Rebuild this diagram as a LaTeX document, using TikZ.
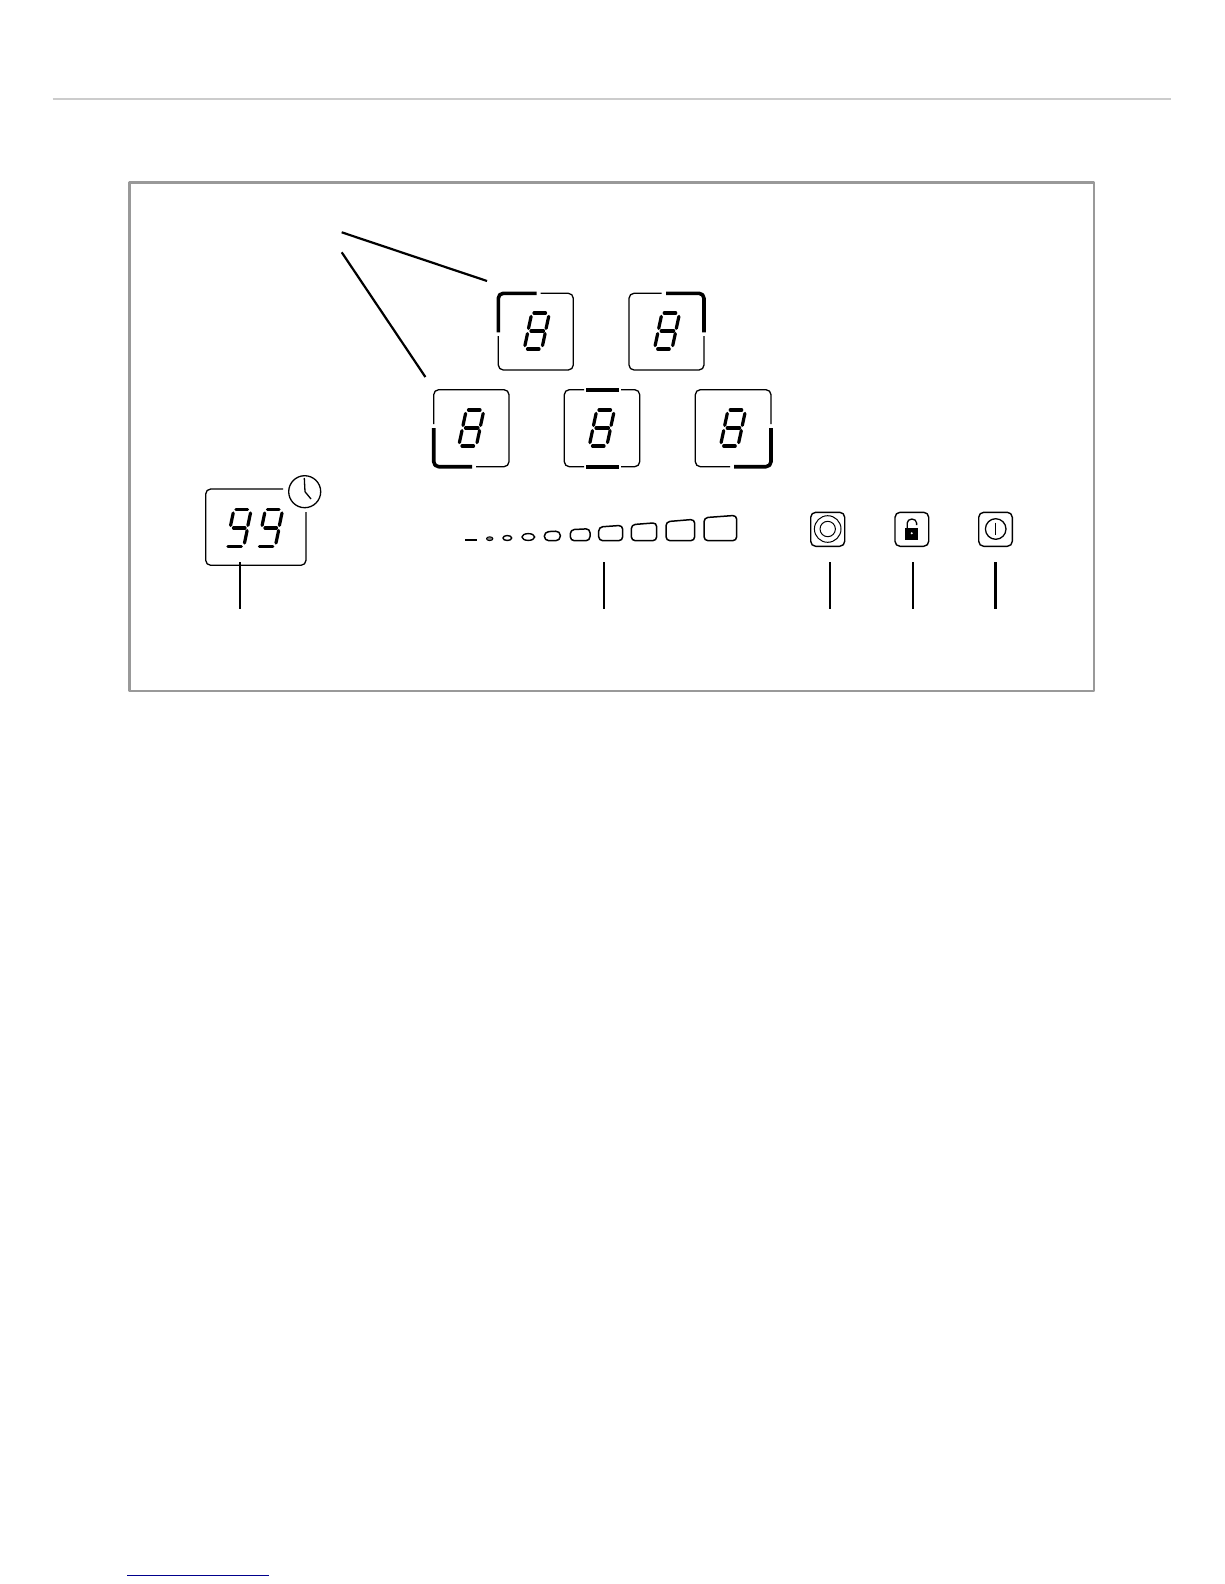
\documentclass[tikz,border=0pt]{standalone}
\begin{document}
\begin{tikzpicture}[x=1pt,y=-1pt,line join=round,
  frameline/.style={draw=black!40,line width=2.8},
  thinedge/.style={draw=black,line width=1.3,rounded corners=5},
  thickedge/.style={draw=black,line width=3.6,rounded corners=5},
  segline/.style={draw=black,line width=3.2,line cap=round},
  leader/.style={draw=black,line width=2.2},
  barshape/.style={draw=black,line width=1.5,rounded corners=4},
  buttonbox/.style={draw=black,line width=1.4,rounded corners=5},
  iconline/.style={draw=black,line width=1},
  eightseg/.pic={
    \draw[segline] (-2.5,-18) -- (9,-18);
    \draw[segline] (-5.4,-14.6) -- (-8,-2.6);
    \draw[segline] (12.2,-14.6) -- (9.6,-2.6);
    \draw[segline] (-5.5,0) -- (7,0);
    \draw[segline] (-9,2.6) -- (-11.6,14.6);
    \draw[segline] (8.6,2.6) -- (6,14.6);
    \draw[segline] (-9,18) -- (2.5,18);
  },
  nineseg/.pic={
    \draw[segline] (-2.5,-18.5) -- (9,-18.5);
    \draw[segline] (-5.3,-15) -- (-7.9,-2.6);
    \draw[segline] (12,-15) -- (9.4,-2.6);
    \draw[segline] (-5,0) -- (6.5,0);
    \draw[segline] (8.6,2.6) -- (6,15);
    \draw[segline] (-10.5,18.5) -- (2.8,18.5);
  }]
\useasboundingbox (0,0) rectangle (1224,1584);
% rules and frame
\coordinate (ruleL) at (52.5,99); \coordinate (ruleR) at (1170.5,99);
\draw[draw=black!20,line width=1.2] (ruleL) -- (ruleR);
\coordinate (blueL) at (127,1575); \coordinate (blueR) at (269,1575);
\draw[draw=blue!55!black,line width=1] (blueL) -- (blueR);
\draw[frameline] (129.3,182.3) rectangle (1094,691);
% diagonal leaders
\coordinate (diagA) at (341.7,232.3); \coordinate (diagAend) at (487,281);
\coordinate (diagB) at (341.7,252.3); \coordinate (diagBend) at (425.4,377);
\draw[leader] (diagA) -- (diagAend);
\draw[leader] (diagB) -- (diagBend);
% zone 1
\draw[thinedge] (498.3,336) -- (498.3,370) -- (573.3,370) -- (573.3,293.3) -- (540.7,293.3);
\draw[thickedge] (498.3,332.3) -- (498.3,293.3) -- (536.7,293.3);
\pic at (536.5,331) {eightseg};
% zone 2
\draw[thinedge] (661.7,293.3) -- (629,293.3) -- (629,370) -- (704,370) -- (704,336);
\draw[thickedge] (666,293.3) -- (704,293.3) -- (704,332.3);
\pic at (666.7,331) {eightseg};
% zone 3
\draw[thinedge] (433.7,424) -- (433.7,389.7) -- (509,389.7) -- (509,466.7) -- (476,466.7);
\draw[thickedge] (433.7,428) -- (433.7,466.7) -- (472,466.7);
\pic at (471,428) {eightseg};
% zone 4
\draw[thinedge] (584,389.7) -- (564.3,389.7) -- (564.3,466.7) -- (584,466.7);
\draw[thinedge] (621,389.7) -- (639.7,389.7) -- (639.7,466.7) -- (621,466.7);
\draw[draw=black,line width=3.6] (586,389.7) -- (619,389.7);
\draw[draw=black,line width=3.6] (586,466.7) -- (619,466.7);
\pic at (601.5,428) {eightseg};
% zone 5
\draw[thinedge] (730,466.7) -- (695.3,466.7) -- (695.3,389.7) -- (771,389.7) -- (771,424);
\draw[thickedge] (734,466.7) -- (771,466.7) -- (771,428);
\pic at (732.7,428) {eightseg};
% timer
\draw[thinedge] (283,489) -- (205.7,489) -- (205.7,565.3) -- (306,565.3) -- (306,512);
\pic at (238.5,528) {nineseg};
\pic at (270,528) {nineseg};
\draw[draw=black,line width=1.3] (304.7,491.7) circle (16);
\draw[draw=black,line width=1.3] (304.3,478) -- (305,491.7) -- (311,499);
% power bars
\draw[draw=black,line width=2.4] (465,539.7) -- (477,539.7);
\draw[draw=black,fill=black!50,line width=1] (489.7,538.7) ellipse (3.2 and 1.9);
\draw[draw=black,line width=1.4] (507.3,538) ellipse (4.4 and 2.5);
\draw[draw=black,line width=1.4] (528.3,537) ellipse (6.4 and 3.4);
\draw[draw=black,line width=1.5,rounded corners=4.5] (544.3,540.7) -- (544.3,531.8) -- (560.3,531) -- (560.3,540.7) -- cycle;
\draw[barshape] (570.3,540.7) -- (570.3,529.7) -- (590,528.7) -- (590,540.7) -- cycle;
\draw[barshape] (598.7,540.7) -- (598.7,527) -- (622.7,525.3) -- (622.7,540.7) -- cycle;
\draw[barshape] (631.3,540.7) -- (631.3,524.7) -- (656.7,522.7) -- (656.7,540.7) -- cycle;
\draw[barshape] (666,540.7) -- (666,521.7) -- (694.7,519.3) -- (694.7,540.7) -- cycle;
\draw[barshape] (704,540.7) -- (704,517.7) -- (736.7,515.3) -- (736.7,540.7) -- cycle;
% buttons
\draw[buttonbox] (810.7,512.3) rectangle (844.7,546.3);
\draw[iconline] (827.7,529) circle (13.3);
\draw[iconline] (827.7,529) circle (7.7);
\draw[buttonbox] (895,512.3) rectangle (928.7,546.3);
\fill[black] (905,528.3) rectangle (918.3,540);
\draw[draw=black,line width=1.3] (907.2,528.3) -- (907.2,523) arc[start angle=180,end angle=0,x radius=4.7,y radius=-4] -- (916.6,525);
\fill[white] (911.7,533.3) circle (1.1);
\draw[buttonbox] (978.7,512.3) rectangle (1012.3,546.3);
\draw[draw=black,line width=1.3] (995.7,529) circle (10.3);
\draw[iconline] (995.7,522.7) -- (995.7,535.3);
% vertical leaders
\coordinate (tA) at (240,562); \coordinate (bA) at (240,608.5);
\coordinate (tB) at (604.3,562); \coordinate (bB) at (604.3,608.5);
\coordinate (tC) at (830,562); \coordinate (bC) at (830,608.5);
\coordinate (tD) at (912.7,562); \coordinate (bD) at (912.7,608.5);
\coordinate (tE) at (995.3,562); \coordinate (bE) at (995.3,608.5);
\draw[draw=black,line width=1.8] (tA) -- (bA);
\draw[leader] (tB) -- (bB);
\draw[draw=black,line width=1.8] (tC) -- (bC);
\draw[draw=black,line width=1.8] (tD) -- (bD);
\draw[draw=black,line width=2.8] (tE) -- (bE);
\end{tikzpicture}
\end{document}
